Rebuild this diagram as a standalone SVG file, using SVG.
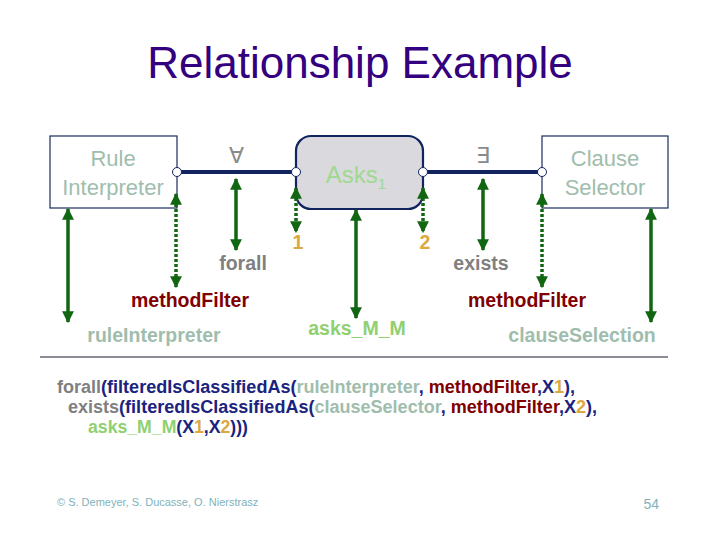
<svg xmlns="http://www.w3.org/2000/svg" width="720" height="540" viewBox="0 0 720 540">
<defs>
<marker id="ah" viewBox="0 0 10 10" refX="9" refY="5" markerWidth="3.4" markerHeight="3.4" orient="auto-start-reverse">
<path d="M0,0 L10,5 L0,10 z" fill="#116611"/>
</marker>
<style>
text{font-family:"Liberation Sans",Arial,sans-serif}
.box{fill:#fff;stroke:#1a2a5e;stroke-width:1.2}
.bt{font-size:22px;fill:#9fbdad;text-anchor:middle}
.lnk{stroke:#12245e;stroke-width:4}
.port{fill:#fff;stroke:#12245e;stroke-width:1}
.sym{font-size:22px;fill:#8a8a8a;text-anchor:middle}
.arr{stroke:#116611;stroke-width:3.5;fill:none;marker-start:url(#ah);marker-end:url(#ah)}
.dot{stroke-dasharray:3 2}
.lb{font-size:19.5px;font-weight:bold;text-anchor:middle}
.gr{fill:#808080}.rd{fill:#800000}.sg{fill:#9fbdad}.lg{fill:#8fd070}.gd{fill:#dba940}.nv{fill:#1a237e}
.code{font-size:18px;font-weight:bold}
</style>
</defs>
<rect width="720" height="540" fill="#fff"/>
<text x="360" y="78" font-size="44" fill="#330080" text-anchor="middle">Relationship Example</text>
<g id="ruleInterpreterNode">
<rect class="box" x="50" y="136" width="127" height="72"/>
<text class="bt" x="113" y="166">Rule</text>
<text class="bt" x="113" y="195">Interpreter</text>
</g>
<g id="asksNode">
<rect x="296" y="136" width="127" height="73" rx="15" fill="#d9d9de" stroke="#12245e" stroke-width="2.2"/>
<text x="356" y="183" font-size="24" fill="#9fd98f" text-anchor="middle">Asks<tspan font-size="15" dy="6">1</tspan></text>
</g>
<g id="clauseSelectorNode">
<rect class="box" x="542" y="136" width="126" height="72"/>
<text class="bt" x="605" y="166">Clause</text>
<text class="bt" x="605" y="195">Selector</text>
</g>
<g id="connectors">
<line class="lnk" x1="177" y1="172" x2="296" y2="172"/>
<line class="lnk" x1="423" y1="172" x2="542" y2="172"/>
<circle class="port" cx="177" cy="172" r="4.5"/>
<circle class="port" cx="296" cy="172" r="4.5"/>
<circle class="port" cx="423" cy="172" r="4.5"/>
<circle class="port" cx="542" cy="172" r="4.5"/>
<text class="sym" x="236" y="163">∀</text>
<text class="sym" x="483" y="163">∃</text>
<line class="arr" x1="68" y1="209" x2="68" y2="322"/>
<line class="arr dot" x1="176" y1="194" x2="176" y2="287"/>
<line class="arr" x1="236" y1="179" x2="236" y2="250"/>
<line class="arr dot" x1="296" y1="188" x2="296" y2="232"/>
<line class="arr" x1="356" y1="210" x2="356" y2="318"/>
<line class="arr dot" x1="423" y1="188" x2="423" y2="232"/>
<line class="arr" x1="483" y1="179" x2="483" y2="250"/>
<line class="arr dot" x1="542" y1="194" x2="542" y2="287"/>
<line class="arr" x1="651" y1="209" x2="651" y2="322"/>
</g>
<g id="labels">
<text class="lb gr" x="243" y="270">forall</text>
<text class="lb gd" x="298" y="249">1</text>
<text class="lb gd" x="425" y="249">2</text>
<text class="lb gr" x="481" y="270">exists</text>
<text class="lb rd" x="190" y="307">methodFilter</text>
<text class="lb rd" x="527" y="307">methodFilter</text>
<text class="lb sg" x="154" y="342">ruleInterpreter</text>
<text class="lb lg" x="357" y="335">asks_M_M</text>
<text class="lb sg" x="582" y="342">clauseSelection</text>
</g>
<line x1="40" y1="357" x2="668" y2="357" stroke="#1a1a2e" stroke-width="1.2"/>
<g id="formula">
<text class="code" x="57" y="393" textLength="518" lengthAdjust="spacingAndGlyphs"><tspan class="gr">forall</tspan><tspan class="nv">(filteredIsClassifiedAs(</tspan><tspan class="sg">ruleInterpreter</tspan><tspan class="nv">, </tspan><tspan class="rd">methodFilter</tspan><tspan class="nv">,X</tspan><tspan class="gd">1</tspan><tspan class="nv">),</tspan></text>
<text class="code" x="68" y="413" textLength="529" lengthAdjust="spacingAndGlyphs"><tspan class="gr">exists</tspan><tspan class="nv">(filteredIsClassifiedAs(</tspan><tspan class="sg">clauseSelector</tspan><tspan class="nv">, </tspan><tspan class="rd">methodFilter</tspan><tspan class="nv">,X</tspan><tspan class="gd">2</tspan><tspan class="nv">),</tspan></text>
<text class="code" x="88" y="433" textLength="160" lengthAdjust="spacingAndGlyphs"><tspan class="lg">asks_M_M</tspan><tspan class="nv">(X</tspan><tspan class="gd">1</tspan><tspan class="nv">,X</tspan><tspan class="gd">2</tspan><tspan class="nv">)))</tspan></text>
</g>
<text x="57" y="506" font-size="11" fill="#7fb2ba">© S. Demeyer, S. Ducasse, O. Nierstrasz</text>
<text x="659" y="509" font-size="14" fill="#7fb2ba" text-anchor="end">54</text>
</svg>
